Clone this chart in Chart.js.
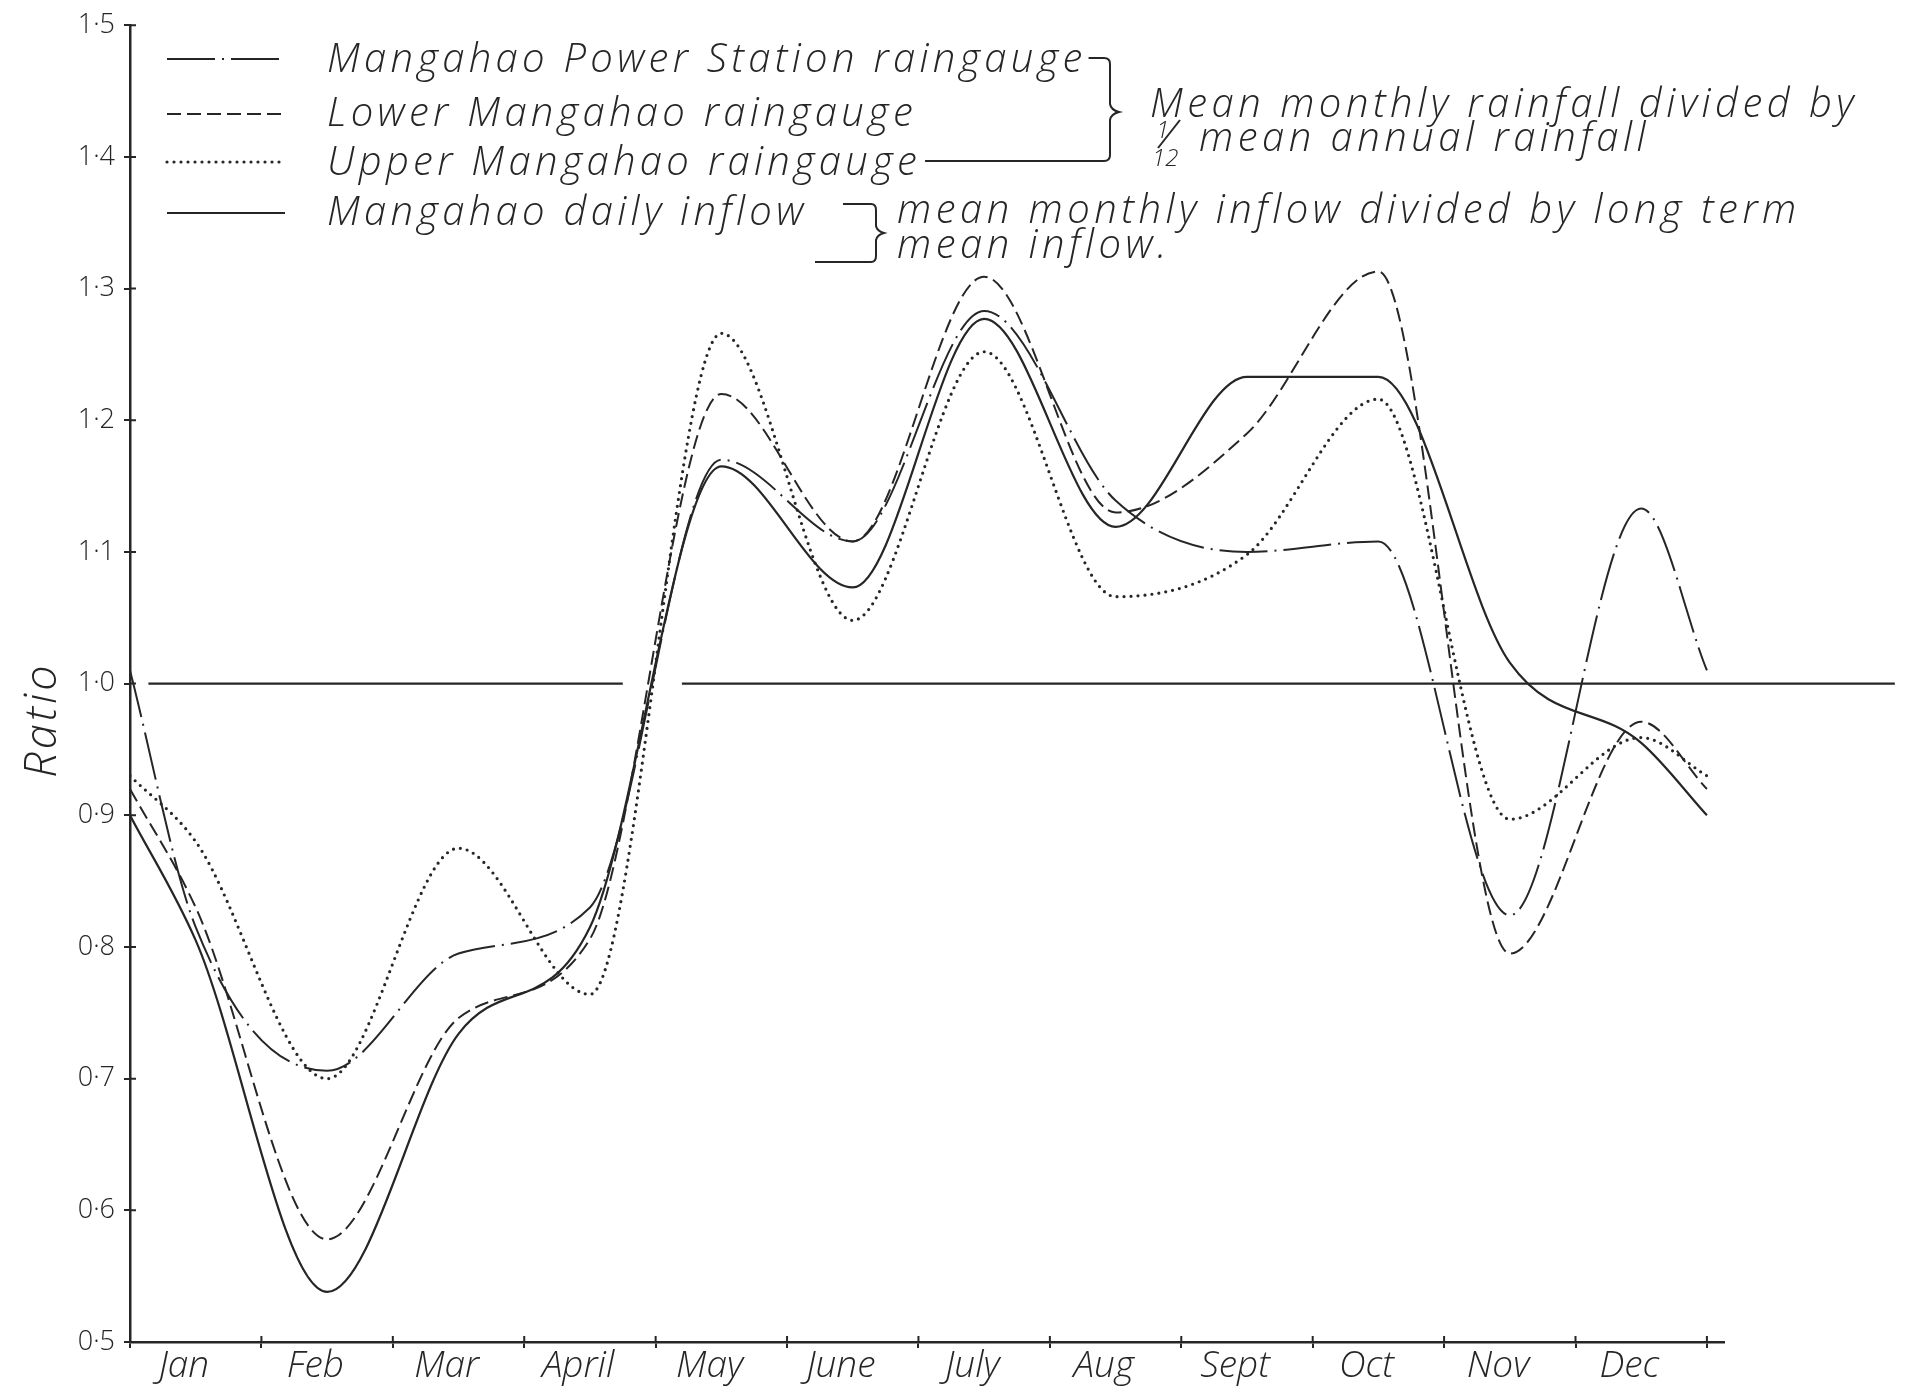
<!DOCTYPE html>
<html>
<head>
<meta charset="utf-8">
<title>Mangahao – seasonal rainfall and inflow ratios</title>
<script src="https://cdn.jsdelivr.net/npm/chart.js@4/dist/chart.umd.min.js"></script>
<style>
  html, body { margin: 0; padding: 0; background: #ffffff; }
  canvas { display: block; }
</style>
</head>
<body>
<canvas id="ratioChart" width="1908" height="1399"></canvas>
<script>
// Month names along the year axis and the position of each mid-month reading
const months = ['Jan', 'Feb', 'Mar', 'April', 'May', 'June', 'July', 'Aug', 'Sept', 'Oct', 'Nov', 'Dec'];
const monthCentre = [0.5, 1.5, 2.5, 3.5, 4.5, 5.5, 6.5, 7.5, 8.5, 9.5, 10.5, 11.5];
const yearStart = 0;
const yearEnd = 12;

// Ratio axis labels, 0·5 to 1·5
const ratioTicks = ['0·5', '0·6', '0·7', '0·8', '0·9', '1·0', '1·1', '1·2', '1·3', '1·4', '1·5'];

const seriesNames = [
  'Mangahao Power Station raingauge',
  'Lower Mangahao raingauge',
  'Upper Mangahao raingauge',
  'Mangahao daily inflow'
];

// Mean monthly rainfall divided by 1/12 of mean annual rainfall
const powerStation = [0.815, 0.706, 0.795, 0.830, 1.170, 1.108, 1.283, 1.139, 1.100, 1.108, 0.824, 1.133];
const lowerGauge   = [0.830, 0.578, 0.746, 0.806, 1.220, 1.108, 1.309, 1.130, 1.190, 1.313, 0.795, 0.971];
const upperGauge   = [0.880, 0.700, 0.875, 0.764, 1.266, 1.048, 1.252, 1.066, 1.098, 1.216, 0.897, 0.959];
// Mean monthly inflow divided by long-term mean inflow
const dailyInflow  = [0.805, 0.538, 0.734, 0.815, 1.165, 1.073, 1.277, 1.119, 1.233, 1.233, 1.016, 0.955];

// Ratio at the turn of the year (31 Dec = 1 Jan), same order as seriesNames
const turnOfYear = [1.01, 0.92, 0.93, 0.90];

// The unit-ratio line and the stretches of the year axis it is ruled over
const unitRatio = 1.0;
const unitLineRuns = [[0.14, 3.75], [4.2, 13.43]];

const FONT = '"Open Sans", "Noto Sans", "DejaVu Sans", sans-serif';
const ink = '#262626';

function yearCurve(values, edge) {
  return [{ x: yearStart, y: edge }]
    .concat(values.map((v, i) => ({ x: monthCentre[i], y: v })))
    .concat([{ x: yearEnd, y: edge }]);
}

function unitLine() {
  const pts = [];
  unitLineRuns.forEach((run, i) => {
    if (i > 0) pts.push({ x: (unitLineRuns[i - 1][1] + run[0]) / 2, y: null });
    pts.push({ x: run[0], y: unitRatio }, { x: run[1], y: unitRatio });
  });
  return pts;
}

const curveStyle = {
  fill: false,
  pointRadius: 0,
  pointHoverRadius: 0,
  cubicInterpolationMode: 'monotone',
  borderColor: ink,
  borderJoinStyle: 'round'
};

// Legend keys, braces, notes and the rotated axis title, ruled in the drafting style
const draftingNotes = {
  id: 'draftingNotes',
  afterDraw(chart) {
    const ctx = chart.ctx;
    const xs = chart.scales.x;
    const ys = chart.scales.y;
    ctx.save();

    // inner halves of the crossing tick marks
    ctx.strokeStyle = ink;
    ctx.lineWidth = 2;
    ctx.beginPath();
    ys.ticks.forEach(t => {
      const py = ys.getPixelForValue(t.value);
      ctx.moveTo(xs.left, py);
      ctx.lineTo(xs.left + 6, py);
    });
    xs.ticks.forEach(t => {
      const px = xs.getPixelForValue(t.value);
      ctx.moveTo(px, ys.bottom);
      ctx.lineTo(px, ys.bottom - 6);
    });
    ctx.stroke();

    // legend keys drawn with each series' own line style
    const keyY = [59, 114, 162, 213];
    chart.data.datasets.slice(0, 4).forEach((ds, i) => {
      ctx.save();
      ctx.setLineDash(ds.borderDash || []);
      ctx.lineCap = ds.borderCapStyle || 'butt';
      ctx.lineWidth = ds.borderWidth;
      ctx.strokeStyle = ds.borderColor;
      ctx.beginPath();
      ctx.moveTo(167, keyY[i]);
      ctx.lineTo(285, keyY[i]);
      ctx.stroke();
      ctx.restore();
    });

    // legend text
    ctx.fillStyle = ink;
    ctx.textAlign = 'left';
    ctx.textBaseline = 'alphabetic';
    ctx.font = 'italic 300 40px ' + FONT;
    ctx.letterSpacing = '4.3px';
    const textX = 327;
    const textBase = [72, 126, 175, 225];
    const textEnd = seriesNames.map((s, i) => {
      ctx.fillText(s, textX, textBase[i]);
      return textX + ctx.measureText(s).width;
    });

    // brace joining the three raingauges
    ctx.lineWidth = 2;
    ctx.strokeStyle = ink;
    ctx.beginPath();
    ctx.moveTo(textEnd[0] + 2, 58);
    ctx.lineTo(1104, 58);
    ctx.quadraticCurveTo(1110, 58, 1110, 64);
    ctx.lineTo(1110, 104);
    ctx.quadraticCurveTo(1111, 110, 1119, 112);
    ctx.quadraticCurveTo(1111, 114, 1110, 120);
    ctx.lineTo(1110, 155);
    ctx.quadraticCurveTo(1110, 161, 1104, 161);
    ctx.lineTo(textEnd[2] + 4, 161);
    ctx.stroke();

    // bracket beside the inflow entry
    ctx.beginPath();
    ctx.moveTo(843, 204);
    ctx.lineTo(871, 204);
    ctx.quadraticCurveTo(876, 204, 876, 210);
    ctx.lineTo(876, 226);
    ctx.quadraticCurveTo(877, 231, 884, 233);
    ctx.quadraticCurveTo(877, 235, 876, 240);
    ctx.lineTo(876, 256);
    ctx.quadraticCurveTo(876, 262, 871, 262);
    ctx.lineTo(815, 262);
    ctx.stroke();

    // notes
    ctx.font = 'italic 300 40px ' + FONT;
    ctx.letterSpacing = '4.5px';
    ctx.fillText('Mean monthly rainfall divided by', 1150, 117);
    ctx.fillText('mean annual rainfall', 1199, 151);
    ctx.fillText('mean monthly inflow divided by long term', 897, 223);
    ctx.fillText('mean inflow.', 897, 258);

    // the fraction 1/12
    ctx.font = 'italic 300 24px ' + FONT;
    ctx.letterSpacing = '0px';
    ctx.fillText('1', 1156, 138);
    ctx.fillText('12', 1152, 166);
    ctx.beginPath();
    ctx.moveTo(1158, 148);
    ctx.lineTo(1180, 120);
    ctx.stroke();

    // axis title
    ctx.translate(43, 720);
    ctx.rotate(-Math.PI / 2);
    ctx.textAlign = 'center';
    ctx.textBaseline = 'middle';
    ctx.font = 'italic 300 45px ' + FONT;
    ctx.letterSpacing = '3px';
    ctx.fillText('Ratio', 0, 0);

    ctx.restore();
  }
};

const chart = new Chart(document.getElementById('ratioChart'), {
  type: 'line',
  data: {
    datasets: [
      Object.assign({}, curveStyle, {
        label: seriesNames[0],
        data: yearCurve(powerStation, turnOfYear[0]),
        borderWidth: 2,
        borderDash: [48, 7, 2, 7]
      }),
      Object.assign({}, curveStyle, {
        label: seriesNames[1],
        data: yearCurve(lowerGauge, turnOfYear[1]),
        borderWidth: 2,
        borderDash: [14, 6]
      }),
      Object.assign({}, curveStyle, {
        label: seriesNames[2],
        data: yearCurve(upperGauge, turnOfYear[2]),
        borderWidth: 3.2,
        borderCapStyle: 'round',
        borderDash: [0, 7]
      }),
      Object.assign({}, curveStyle, {
        label: seriesNames[3],
        data: yearCurve(dailyInflow, turnOfYear[3]),
        borderWidth: 2.2
      }),
      {
        label: 'unit ratio',
        data: unitLine(),
        borderColor: ink,
        borderWidth: 2.2,
        pointRadius: 0,
        tension: 0,
        spanGaps: false,
        clip: false
      }
    ]
  },
  options: {
    responsive: false,
    animation: false,
    devicePixelRatio: 1,
    events: [],
    layout: { padding: { top: 20, right: 184, bottom: 0, left: 0 } },
    plugins: {
      legend: { display: false },
      tooltip: { enabled: false },
      title: { display: false }
    },
    scales: {
      x: {
        type: 'linear',
        position: 'bottom',
        weight: 0,
        min: yearStart,
        max: 12.13,
        ticks: { display: false, stepSize: 1, includeBounds: false, maxTicksLimit: 20 },
        grid: { drawOnChartArea: false, drawTicks: true, tickLength: 6, color: ink, lineWidth: 2 },
        border: { display: true, color: ink, width: 2.5 },
        afterFit(scale) { scale.height = 0; }
      },
      months: {
        type: 'linear',
        position: 'bottom',
        weight: 1,
        // month names are lettered a little to the left of each interval's centre
        min: 0.09,
        max: 12.22,
        afterBuildTicks(scale) { scale.ticks = monthCentre.map(v => ({ value: v })); },
        ticks: {
          autoSkip: false,
          maxRotation: 0,
          minRotation: 0,
          padding: 6,
          color: ink,
          font: { family: FONT, size: 37, style: 'italic', weight: 300, lineHeight: 1 },
          callback: (value, index) => months[index]
        },
        grid: { display: false, drawTicks: false },
        border: { display: false },
        afterFit(scale) { scale.height = 57; }
      },
      y: {
        type: 'linear',
        position: 'left',
        min: 0.5,
        max: 1.5,
        ticks: {
          stepSize: 0.1,
          padding: 9,
          color: ink,
          font: { family: FONT, size: 27, weight: 300 },
          callback: (value, index) => ratioTicks[index]
        },
        grid: { drawOnChartArea: false, drawTicks: true, tickLength: 6, color: ink, lineWidth: 2 },
        border: { display: true, color: ink, width: 2.5 },
        afterFit(scale) { scale.width = 130; }
      }
    }
  },
  plugins: [draftingNotes]
});
</script>
</body>
</html>
